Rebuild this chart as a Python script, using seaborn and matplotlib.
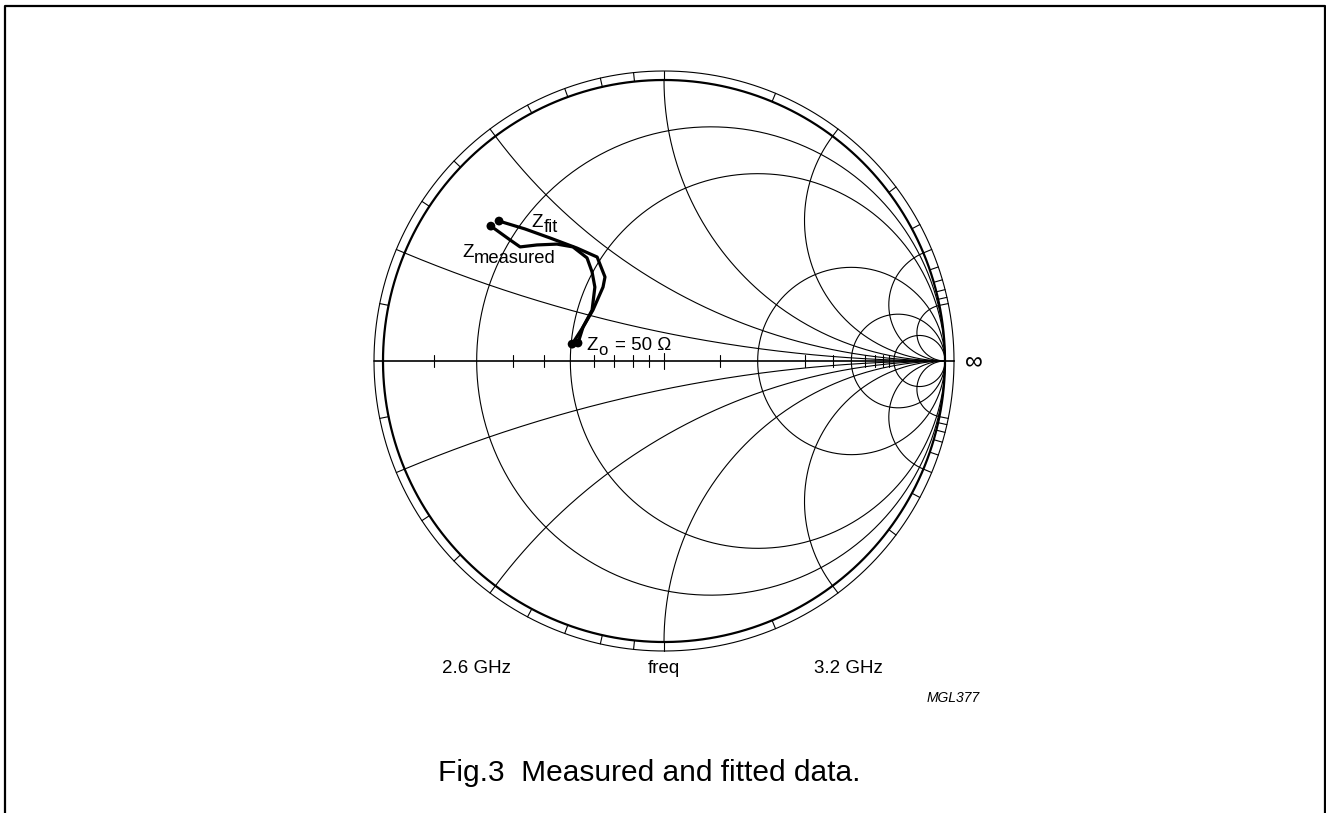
import numpy as np
import pandas as pd
import matplotlib
matplotlib.use("Agg")
import matplotlib.pyplot as plt
import seaborn as sns

# reflection coefficient (chart normalised to Z_ref = 100 ohm)
meas_re = [-0.616, -0.548, -0.512, -0.452, -0.381, -0.324, -0.274, -0.256, -0.246, -0.256, -0.288, -0.327]
meas_im = [0.480, 0.431, 0.406, 0.413, 0.416, 0.406, 0.367, 0.317, 0.263, 0.181, 0.121, 0.060]
fit_re = [-0.587, -0.495, -0.406, -0.310, -0.238, -0.210, -0.217, -0.253, -0.288, -0.306]
fit_im = [0.498, 0.470, 0.438, 0.402, 0.370, 0.299, 0.263, 0.181, 0.121, 0.064]

# chart grid values (normalised)
r_circles = [0.2, 0.5, 2, 5, 10]
x_arcs = [0.2, 0.5, 1, 2, 5, 10]
axis_ticks = [0.1, 0.3, 0.4, 0.6, 0.7, 0.8, 0.9, 1.5, 3, 4, 6, 7, 8, 9]
ring_ticks = [0.1, 0.2, 0.3, 0.4, 0.5, 0.6, 0.7, 0.8, 0.9, 1, 1.5, 2, 3, 4, 5, 6, 7, 8, 9, 10]
freq_labels = ["2.6 GHz", "freq", "3.2 GHz"]

sns.set_style("white")
plt.rcParams['font.family'] = ['Liberation Sans', 'DejaVu Sans']
plt.rcParams['text.color'] = 'black'

W, H = 1326, 813
cx, cy, R = 664, 361, 281  # chart centre / radius in pixels
fig = plt.figure(figsize=(W / 100, H / 100), dpi=100)
ax = fig.add_axes([0, 0, 1, 1])
ax.set_xlim(-cx / R, (W - cx) / R)
ax.set_ylim(-(H - cy) / R, cy / R)
ax.axis('off')

lw = 0.8
t = np.linspace(0, 2 * np.pi, 720)

# outer ring
ax.plot(np.cos(t), np.sin(t), color='black', lw=1.6)
ring = 290 / R
ax.plot(ring * np.cos(t), ring * np.sin(t), color='black', lw=lw)

# constant resistance circles
for r in r_circles:
    c, rad = r / (1 + r), 1 / (1 + r)
    ax.plot(c + rad * np.cos(t), rad * np.sin(t), color='black', lw=lw)

# constant reactance arcs
rr = np.concatenate([[0], np.logspace(-3, 4, 800)])
for x in x_arcs:
    for s in (1, -1):
        z = rr + 1j * s * x
        g = (z - 1) / (z + 1)
        ax.plot(g.real, g.imag, color='black', lw=lw)

# real axis with ticks
ax.plot([-ring, ring], [0, 0], color='black', lw=1.2)
for v in axis_ticks:
    gx = (v - 1) / (v + 1)
    ax.plot([gx, gx], [-0.021, 0.021], color='black', lw=lw)
ax.plot([0, 0], [-0.03, 0.03], color='black', lw=lw)

# ticks on the outer scale ring
for v in ring_ticks:
    th = np.pi - 2 * np.arctan(v)
    for s in (1, -1):
        ax.plot([np.cos(th), ring * np.cos(th)], [s * np.sin(th), s * ring * np.sin(th)],
                color='black', lw=lw)

# measured and fitted curves
meas = pd.DataFrame({'re': meas_re, 'im': meas_im})
fit = pd.DataFrame({'re': fit_re, 'im': fit_im})
for df in (meas, fit):
    sns.lineplot(data=df, x='re', y='im', sort=False, estimator=None, ax=ax,
                 color='black', lw=2.3)
    sns.scatterplot(x=[df['re'].iloc[0], df['re'].iloc[-1]], y=[df['im'].iloc[0], df['im'].iloc[-1]],
                    ax=ax, color='black', s=40, edgecolor='none', zorder=5)


def z_label(x, y, sub, rest='', sub_fs=13.2, dx=12, dy=-5.5):
    ax.text(x, y, 'Z', fontsize=13.5, ha='left', va='baseline')
    ax.annotate(sub, (x, y), xytext=(dx, dy), textcoords='offset pixels',
                fontsize=sub_fs, ha='left', va='baseline')
    if rest:
        ax.annotate(rest, (x, y), xytext=(dx + 16, 0), textcoords='offset pixels',
                    fontsize=13.5, ha='left', va='baseline')


z_label(-0.472, 0.477, 'fit')
z_label(-0.719, 0.370, 'measured')
z_label(-0.275, 0.039, 'o', '= 50 Ω', sub_fs=12, dy=-5)
ax.text(1.071, 0.0, '∞', fontsize=18, ha='left', va='center')

for lab, gx in zip(freq_labels, [-0.668, 0.0, 0.655]):
    ax.text(gx, -1.095, lab, fontsize=13.5, ha='center', va='center')
ax.text(1.029, -1.199, 'MGL377', fontsize=10, style='italic', ha='center', va='center')
ax.text((649 - cx) / R, (cy - 773) / R, 'Fig.3  Measured and fitted data.', fontsize=21.5,
        ha='center', va='center')

# page frame
fig.add_artist(plt.Line2D([5 / W, 5 / W, 1324.5 / W, 1324.5 / W], [0, 1 - 6 / H, 1 - 6 / H, 0],
                          transform=fig.transFigure, color='black', lw=1.6))

fig.savefig('out.png', dpi=100)
